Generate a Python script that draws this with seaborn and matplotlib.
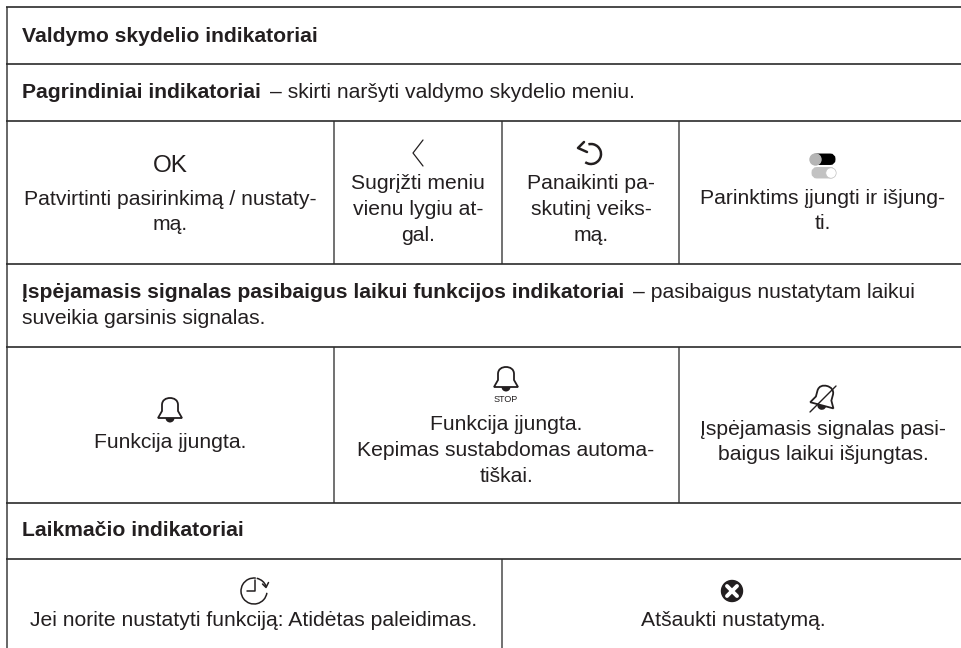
import matplotlib
matplotlib.use("Agg")
import matplotlib.pyplot as plt
from matplotlib.patches import Arc, Circle, FancyBboxPatch, PathPatch, Wedge
from matplotlib.path import Path
from matplotlib.transforms import Affine2D
import seaborn as sns

sns.set_theme(style="white")
plt.rcParams['font.family'] = ['Liberation Sans', 'DejaVu Sans']

DARK = "#2b2b2b"
GREY = "#666666"
INK = "#231f20"

row_lines = [7, 64, 121, 264, 347, 503, 559]
row1_splits = [334, 502, 679]
row2_splits = [334, 679]
row3_splits = [502]

headers = [
    ("Valdymo skydelio indikatoriai", 36.5),
    ("Laikmačio indikatoriai", 530.5),
]
row1_text = [
    (170, 212, "Patvirtinti pasirinkimą / nustaty-\nmą."),
    (418, 209.5, "Sugrįžti meniu\nvienu lygiu at-\ngal."),
    (591, 209.5, "Panaikinti pa-\nskutinį veiks-\nmą."),
    (823, 211, "Parinktims įjungti ir išjung-\nti."),
]
row2_text = [
    (170, 443, "Funkcija įjungta."),
    (506, 450.5, "Funkcija įjungta.\nKepimas sustabdomas automa-\ntiškai."),
    (823, 442, "Įspėjamasis signalas pasi-\nbaigus laikui išjungtas."),
]
row3_text = [
    (254, 621, "Jei norite nustatyti funkciją: Atidėtas paleidimas."),
    (733, 621, "Atšaukti nustatymą."),
]

fig = plt.figure(figsize=(9.61, 6.48), dpi=100)
ax = fig.add_axes([0, 0, 1, 1])
ax.set_xlim(0, 961)
ax.set_ylim(648, 0)
ax.axis("off")

# table rules
ax.vlines(6.5, 7, 648, color=GREY, lw=1.4)
ax.vlines(row1_splits, row_lines[2], row_lines[3], color=GREY, lw=1.3)
ax.vlines(row2_splits, row_lines[4], row_lines[5], color=GREY, lw=1.3)
ax.vlines(row3_splits, row_lines[6], 648, color=GREY, lw=1.3)
ax.hlines(row_lines, 6, 961, color=DARK, lw=1.2)

FS = 15.2
SPACING = 1.44
for label, y in headers:
    ax.text(22, y, label, fontsize=FS, fontweight="bold", color=INK, va="center")

ax.text(22, 92.5, "Pagrindiniai indikatoriai", fontsize=FS, fontweight="bold", color=INK, va="center")
ax.text(270, 92.5, "– skirti naršyti valdymo skydelio meniu.", fontsize=FS, color=INK, va="center")
ax.text(22, 293, "Įspėjamasis signalas pasibaigus laikui funkcijos indikatoriai", fontsize=FS,
        fontweight="bold", color=INK, va="center")
ax.text(633, 293, "– pasibaigus nustatytam laikui", fontsize=FS, color=INK, va="center")
ax.text(22, 319, "suveikia garsinis signalas.", fontsize=FS, color=INK, va="center")

for x, y, label in row1_text + row2_text + row3_text:
    ax.text(x, y, label, fontsize=FS, color=INK, ha="center", va="center", linespacing=SPACING)

# icons
ax.text(170, 166, "OK", fontsize=17.5, color=INK, ha="center", va="center")
ax.plot([423, 413, 423], [140, 153, 166], color=INK, lw=0.9)

# undo arrow
ax.add_patch(Arc((591, 154), 20, 20, theta1=-105, theta2=125, color=INK, lw=1.8))
ax.plot([584, 578, 587], [142, 148, 152], color=INK, lw=1.8)

# toggles
ax.add_patch(FancyBboxPatch((815, 157), 17, 4.5, boxstyle="round,pad=0,rounding_size=2",
                            fc="black", ec="black", lw=5))
ax.add_patch(Circle((815.5, 159.5), 5.5, fc="#b5b5b5", ec="#b5b5b5"))
ax.add_patch(FancyBboxPatch((815, 170.5), 17, 4.5, boxstyle="round,pad=0,rounding_size=2",
                            fc="#c2c2c2", ec="#c2c2c2", lw=5))
ax.add_patch(Circle((831, 173), 5.2, fc="white", ec="#c2c2c2", lw=0.5))


def bell(cx, top, angle=0.0):
    # bell outline relative to its top centre
    verts = [(-12, 20), (-8, 13), (-8, 7), (-8, 2), (-4, 0), (0, 0),
             (4, 0), (8, 2), (8, 7), (8, 13), (12, 20), (-12, 20)]
    codes = [Path.MOVETO, Path.LINETO, Path.LINETO, Path.CURVE4, Path.CURVE4, Path.CURVE4,
             Path.CURVE4, Path.CURVE4, Path.CURVE4, Path.LINETO, Path.LINETO, Path.CLOSEPOLY]
    place = Affine2D().rotate_deg(angle).translate(cx, top) + ax.transData
    ax.add_patch(PathPatch(Path(verts, codes), fc="none", ec=INK, lw=1.3, transform=place))
    ax.add_patch(Wedge((0, 20), 4.5, 0, 180, fc=INK, ec=INK, lw=0, transform=place))


bell(170, 398)
bell(506, 367)
ax.text(506, 399.5, "STOP", fontsize=6.5, color=INK, ha="center", va="center")

# struck out bell
bell(827, 386, 15)
ax.plot([810, 836], [412, 386], color=INK, lw=1.0)

# delay clock
ax.add_patch(Arc((254, 591), 26, 26, theta1=8, theta2=278, color=INK, lw=1.1))
ax.add_patch(Arc((254, 591), 26, 26, theta1=-78, theta2=-20, color=INK, lw=1.1))
ax.plot([255, 255, 247], [580, 591, 591], color=INK, lw=1.1)
ax.plot([262.5, 266, 268.5], [584, 587.5, 582.5], color=INK, lw=1.1)

# cancel icon
ax.add_patch(Circle((732, 591), 10.5, fc=INK, ec=INK))
ax.plot([727, 737], [586, 596], color="white", lw=2.8)
ax.plot([727, 737], [596, 586], color="white", lw=2.8)

fig.savefig("out.png", dpi=100)
plt.close(fig)
